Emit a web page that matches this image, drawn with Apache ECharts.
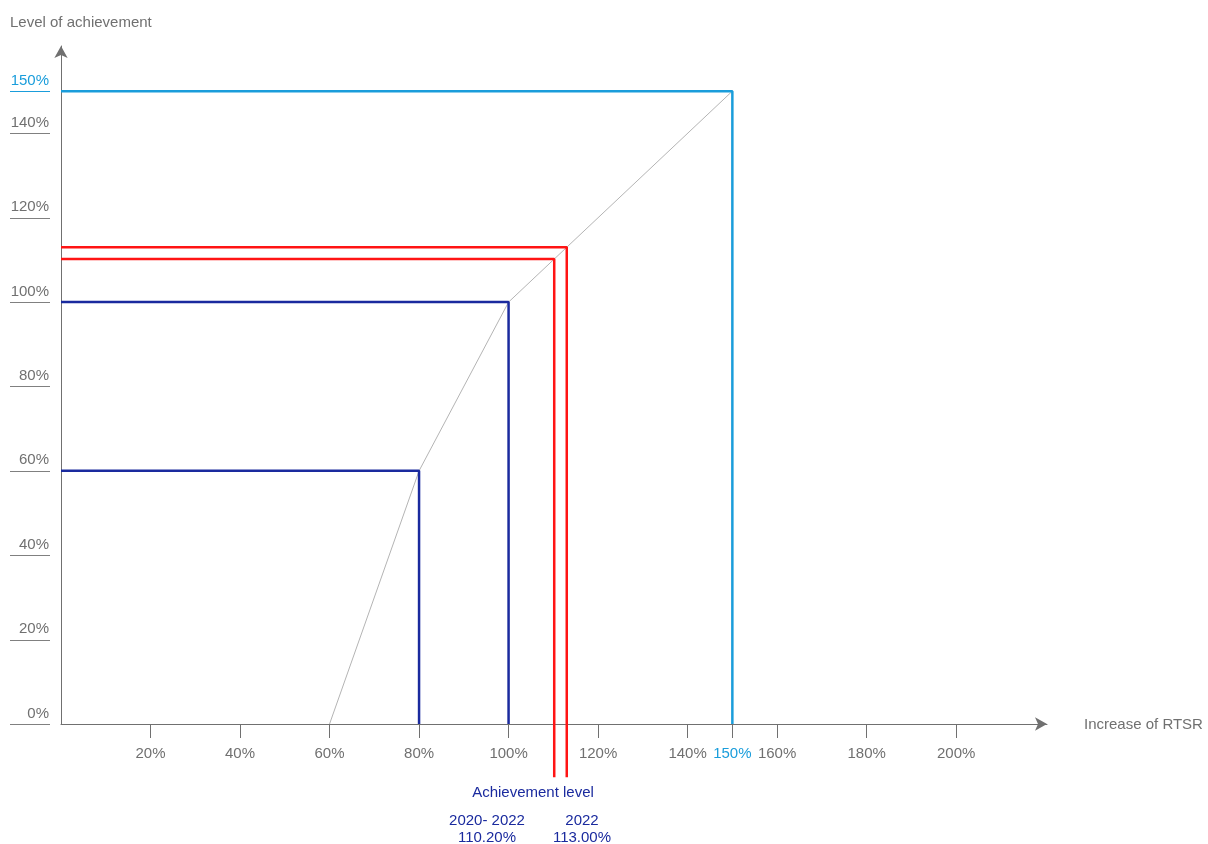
<!DOCTYPE html>
<html>
<head>
<meta charset="utf-8">
<script src="https://cdn.jsdelivr.net/npm/echarts@6/dist/echarts.min.js"></script>
<style>
  html, body { margin: 0; padding: 0; background: #fff; }
  #chart { width: 1208px; height: 844px; }
</style>
</head>
<body>
<div id="chart"></div>
<script>
// Increase of RTSR (x, %) versus level of achievement (y, %)
const xTicks = [20, 40, 60, 80, 100, 120, 140, 150, 160, 180, 200];
const yTicks = [0, 20, 40, 60, 80, 100, 120, 140, 150];

// payout curve: threshold, target, cap
const curveX = [60, 80, 100, 150];
const curveY = [0, 60, 100, 150];

// reference levels (RTSR %, achievement %)
const refLevels = [[80, 60], [100, 100]];
const capLevel = [150, 150];

// achieved results
const resultNames = ['2020- 2022', '2022'];
const resultValues = [110.20, 113.00];

const GRAY = '#707070';
const NAVY = '#1a2a9e';
const RED = '#ff1414';
const SKY = '#1a9ddb';
const FONT = '"Liberation Sans", Arial, sans-serif';
const X_MAX = 220.3;
const Y_MAX = 160.7;

const chart = echarts.init(document.getElementById('chart'));

// elbow line: horizontal from the y axis, then down to the x axis (or below it)
function elbow(x, y, bottom) {
  return [[0, y], [x, y], [x, bottom]];
}

const isCap = v => parseFloat(v) === capLevel[0];
const fmtPct = v => v + '%';

const lineBase = { type: 'line', symbol: 'none', silent: true, animation: false };
const series = [];

series.push(Object.assign({}, lineBase, {
  name: 'curve',
  data: curveX.map((x, i) => [x, curveY[i]]),
  lineStyle: { color: '#b4b4b4', width: 1 },
  z: 2
}));

refLevels.forEach(([x, y]) => {
  series.push(Object.assign({}, lineBase, {
    data: elbow(x, y, 0),
    lineStyle: { color: NAVY, width: 2.5 },
    z: 3
  }));
});

series.push(Object.assign({}, lineBase, {
  data: elbow(capLevel[0], capLevel[1], 0),
  lineStyle: { color: SKY, width: 2.5 },
  z: 3
}));

// result leaders run past the x axis down to their captions
const LEADER_END = -12.6;
resultValues.forEach(v => {
  series.push(Object.assign({}, lineBase, {
    data: elbow(v, v, LEADER_END),
    lineStyle: { color: RED, width: 2.5 },
    clip: false,
    z: 4
  }));
});

// detached underline marks beneath the y-axis labels
series.push({
  type: 'custom',
  silent: true,
  clip: false,
  animation: false,
  data: yTicks.map(v => [0, v]),
  renderItem: function (params, api) {
    const v = api.value(1);
    const p = api.coord([0, v]);
    const y = Math.round(p[1]) + 0.5;
    return {
      type: 'line',
      shape: { x1: p[0] - 51, y1: y, x2: p[0] - 11, y2: y },
      style: { stroke: isCap(v) ? SKY : '#808080', lineWidth: 1 }
    };
  },
  z: 2
});

const option = {
  backgroundColor: '#fff',
  animation: false,
  grid: { left: 61, right: 1208 - 1047, top: 46, bottom: 120, containLabel: false },
  xAxis: {
    type: 'value', min: 0, max: X_MAX,
    axisLine: {
      show: true, onZero: false,
      symbol: ['none', 'arrow'], symbolSize: [10, 12],
      lineStyle: { color: GRAY, width: 1 }
    },
    axisTick: {
      show: true, inside: false, length: 14, customValues: xTicks,
      lineStyle: { color: GRAY, width: 1 }
    },
    axisLabel: {
      show: true, margin: 22, customValues: xTicks,
      fontFamily: FONT, fontSize: 15, formatter: fmtPct,
      color: v => isCap(v) ? SKY : GRAY
    },
    splitLine: { show: false }
  },
  yAxis: [
    {
      type: 'value', min: 0, max: Y_MAX,
      axisLine: {
        show: true, onZero: false,
        symbol: ['none', 'arrow'], symbolSize: [10, 12],
        lineStyle: { color: GRAY, width: 1 }
      },
      axisTick: { show: false },
      axisLabel: { show: false },
      splitLine: { show: false }
    },
    {
      type: 'value', position: 'left', offset: 11, min: 0, max: Y_MAX,
      axisLine: { show: false },
      axisTick: { show: false },
      splitLine: { show: false },
      axisLabel: {
        show: true, margin: 1, verticalAlign: 'bottom', padding: [0, 0, 3, 0],
        customValues: yTicks,
        fontFamily: FONT, fontSize: 15, formatter: fmtPct,
        color: v => isCap(v) ? SKY : GRAY
      }
    }
  ],
  graphic: [
    {
      type: 'text', left: 10, top: 15,
      style: { text: 'Level of achievement', fill: GRAY, font: '15px ' + FONT }
    },
    {
      type: 'text', left: 1084, top: 717,
      style: { text: 'Increase of RTSR', fill: GRAY, font: '15px ' + FONT }
    },
    {
      type: 'text', x: 533, y: 793,
      style: {
        text: 'Achievement level', fill: NAVY, font: '15px ' + FONT,
        align: 'center', verticalAlign: 'middle'
      }
    },
    {
      type: 'text', x: 487, y: 829,
      style: {
        text: resultNames[0] + '\n' + resultValues[0].toFixed(2) + '%',
        fill: NAVY, font: '15px ' + FONT, lineHeight: 17,
        align: 'center', verticalAlign: 'middle'
      }
    },
    {
      type: 'text', x: 582, y: 829,
      style: {
        text: resultNames[1] + '\n' + resultValues[1].toFixed(2) + '%',
        fill: NAVY, font: '15px ' + FONT, lineHeight: 17,
        align: 'center', verticalAlign: 'middle'
      }
    }
  ],
  series: series
};

chart.setOption(option);
</script>
</body>
</html>
